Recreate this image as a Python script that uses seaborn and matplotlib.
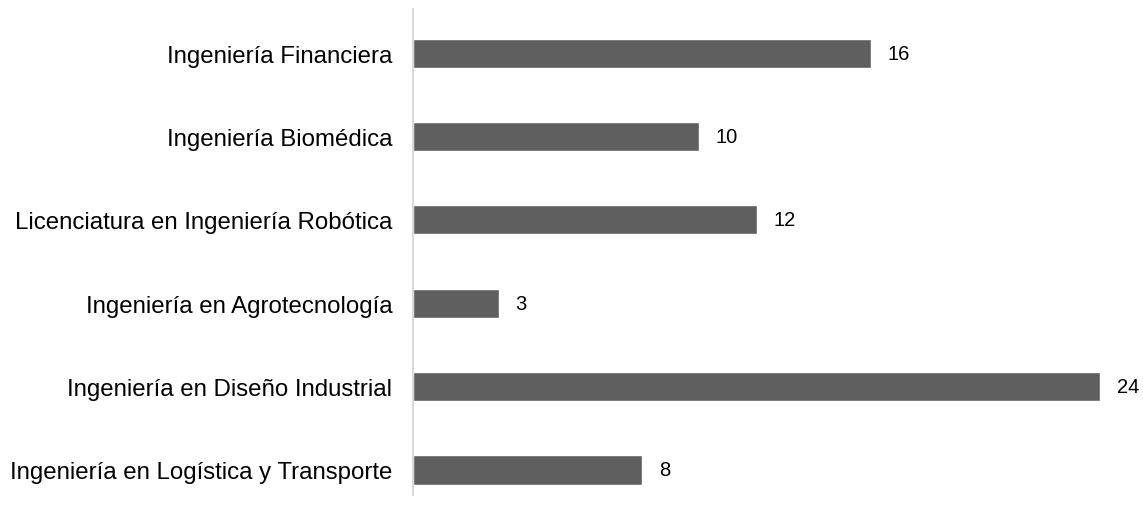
import pandas as pd
import matplotlib.pyplot as plt
import seaborn as sns

carreras = [
    "Ingeniería Financiera",
    "Ingeniería Biomédica",
    "Licenciatura en Ingeniería Robótica",
    "Ingeniería en Agrotecnología",
    "Ingeniería en Diseño Industrial",
    "Ingeniería en Logística y Transporte",
]
valores = [16, 10, 12, 3, 24, 8]

df = pd.DataFrame({"carrera": carreras, "valor": valores})

sns.set_style("white")
plt.rcParams["font.family"] = ["Liberation Sans", "DejaVu Sans"]

fig = plt.figure(figsize=(11.43, 5.06), dpi=100)
ax = fig.add_axes([413 / 1143, 10 / 506, 730 / 1143, 486 / 506])

sns.barplot(data=df, x="valor", y="carrera", color="#5f5f5f", width=0.35,
            saturation=1, ax=ax)

for cont in ax.containers:
    ax.bar_label(cont, padding=12, fontsize=14.5, color="#000000")

ax.set_xlim(0, 25.5)
ax.set_ylim(5.3, -0.53)
ax.set_xlabel("")
ax.set_ylabel("")
ax.set_xticks([])
ax.tick_params(axis="y", length=0, pad=15, labelsize=17.3, labelcolor="#000000")
for s in ["top", "right", "bottom"]:
    ax.spines[s].set_visible(False)
ax.spines["left"].set_color("#d9d9d9")
ax.spines["left"].set_linewidth(1.5)

fig.savefig("out.png", dpi=100)
